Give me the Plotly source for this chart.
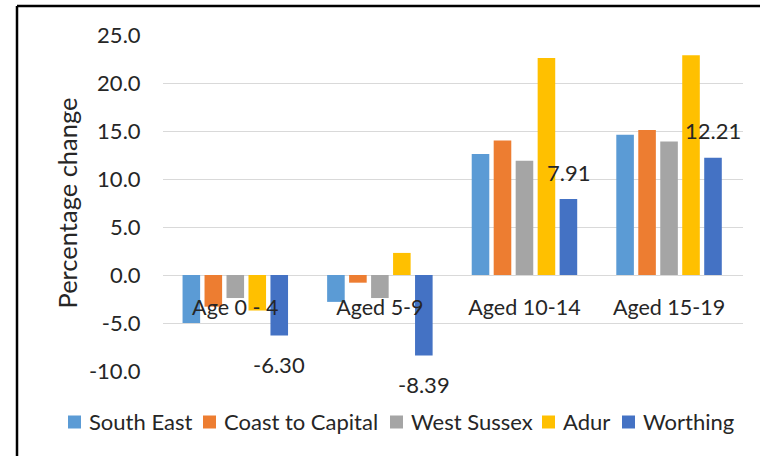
import plotly.graph_objects as go

# Age bands and percentage change by area
categories = ["Age 0 - 4", "Aged 5-9", "Aged 10-14", "Aged 15-19"]
south_east = [-5.0, -2.8, 12.6, 14.6]
coast_to_capital = [-3.3, -0.8, 14.0, 15.1]
west_sussex = [-2.4, -2.4, 11.9, 13.9]
adur = [-3.7, 2.3, 22.6, 22.9]
worthing = [-6.30, -8.39, 7.91, 12.21]

y_ticks = [-10, -5, 0, 5, 10, 15, 20, 25]
y_tick_labels = [f"{v:.1f}" for v in y_ticks]

series = [
    ("South East", south_east, "#5B9BD5"),
    ("Coast to Capital", coast_to_capital, "#ED7D31"),
    ("West Sussex", west_sussex, "#A5A5A5"),
    ("Adur", adur, "#FFC000"),
    ("Worthing", worthing, "#4472C4"),
]

W, H = 760, 456
ML, MR, MT, MB = 163, 17, 35, 85
BARGAP = 0.24
FONT = "Lato"
TXT = "#262626"
GRID = "#D9D9D9"
Y_MIN, Y_MAX = -10, 25

fig = go.Figure()
for name, vals, col in series:
    fig.add_trace(go.Bar(name=name, x=categories, y=vals,
                         marker=dict(color=col, line=dict(width=0)), showlegend=False))

pw, ph = W - ML - MR, H - MT - MB
def px_x(p):
    return (p - ML) / pw
def px_y(p):
    return (H - MB - p) / ph

# Worthing value labels, placed over the last bar of each group
n = len(series)
slot = (1 - BARGAP) / n
w_off = (n - 1 - (n - 1) / 2) * slot
annotations = []
for i, v in enumerate(worthing):
    annotations.append(dict(
        x=i + w_off, y=v, xref="x", yref="y", text=f"{v:.2f}", showarrow=False,
        yshift=27 if v >= 0 else -29, font=dict(family=FONT, size=22, color=TXT),
    ))

# Chart frame (left and top edges)
frame = dict(type="line", xref="paper", yref="paper", line=dict(color="black", width=2.5))
shapes = [
    dict(frame, x0=px_x(17), x1=px_x(17), y0=px_y(6), y1=px_y(H + 5)),
    dict(frame, x0=px_x(17), x1=px_x(W + 5), y0=px_y(6), y1=px_y(6)),
]

# Legend row: coloured square followed by the series name
legend_left = [68, 203, 390, 542, 622]
legend_cy = 422
sq = 13
for (name, _, col), lx in zip(series, legend_left):
    shapes.append(dict(type="rect", xref="paper", yref="paper",
                       x0=px_x(lx), x1=px_x(lx + sq),
                       y0=px_y(legend_cy + sq / 2), y1=px_y(legend_cy - sq / 2),
                       fillcolor=col, line=dict(width=0)))
    annotations.append(dict(x=px_x(lx + sq + 6), y=px_y(legend_cy), xref="paper", yref="paper",
                            xanchor="left", yanchor="middle", text=name, showarrow=False,
                            font=dict(family=FONT, size=22, color=TXT)))

fig.update_layout(
    width=W, height=H,
    margin=dict(l=ML, r=MR, t=MT, b=MB),
    paper_bgcolor="white", plot_bgcolor="white",
    barmode="group", bargap=BARGAP, bargroupgap=0.2,
    font=dict(family=FONT, size=22, color=TXT),
    annotations=annotations, shapes=shapes, showlegend=False,
    xaxis=dict(anchor="free", position=(0 - Y_MIN) / (Y_MAX - Y_MIN),
               showgrid=False, showline=False, zeroline=False,
               ticks="outside", ticklen=13, tickcolor="rgba(0,0,0,0)",
               tickfont=dict(family=FONT, size=21.5, color=TXT)),
    yaxis=dict(range=[Y_MIN, Y_MAX], tickvals=y_ticks, ticktext=y_tick_labels,
               showgrid=True, gridcolor=GRID, gridwidth=1,
               zeroline=True, zerolinecolor=GRID, zerolinewidth=1,
               ticks="outside", ticklen=17, tickcolor="rgba(0,0,0,0)",
               tickfont=dict(family=FONT, size=22, color=TXT),
               title=dict(text="Percentage change", standoff=4,
                          font=dict(family=FONT, size=25.5, color=TXT))),
)

fig.write_html("out.html")
